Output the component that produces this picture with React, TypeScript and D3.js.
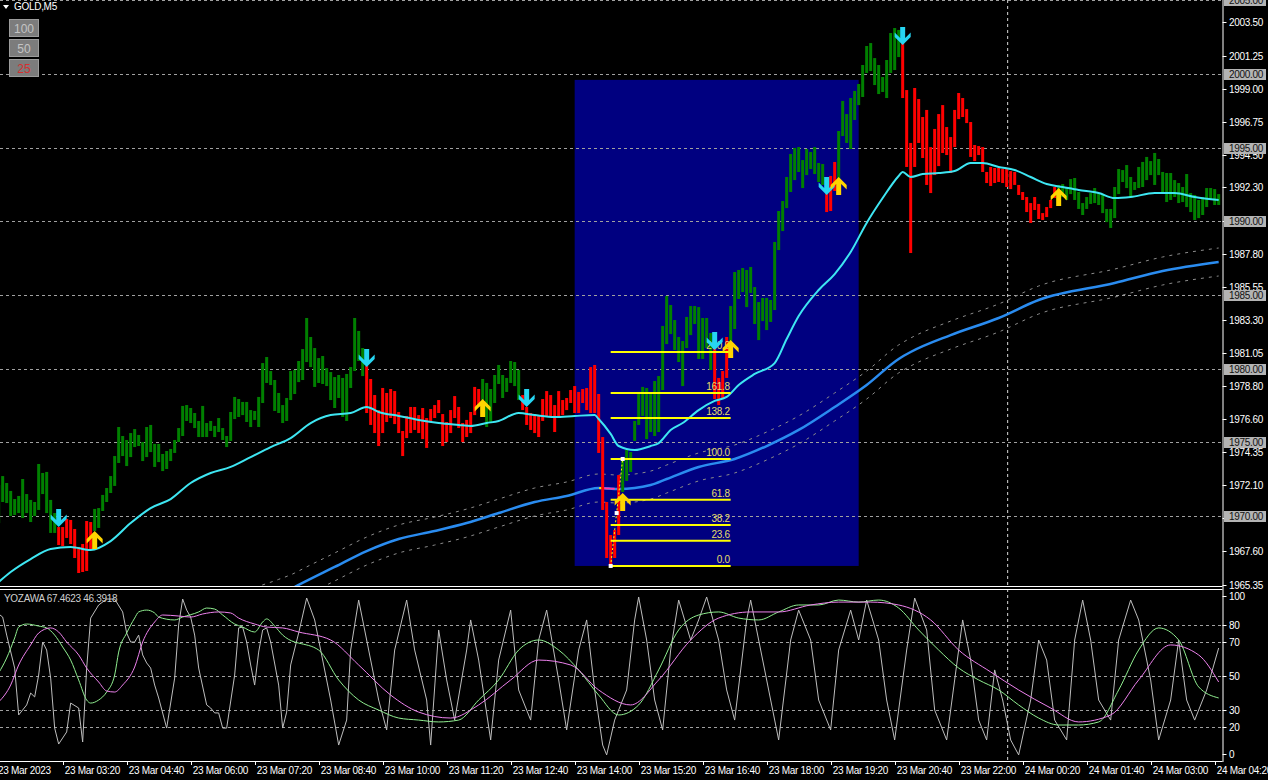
import React from 'react';
import * as d3 from 'd3';

// ---------------- DATA ----------------
// Heiken-Ashi style bodies per M5 bar: [open, close]
const barBodies: [number, number][] = [
[1969.52,1972.10],[1970.95,1972.71],[1970.88,1972.24],[1970.00,1971.70],[1970.07,1971.15],
[1970.20,1971.36],[1969.86,1972.51],[1970.20,1971.49],[1969.59,1971.09],[1970.00,1970.95],
[1970.41,1973.53],[1971.49,1972.92],[1970.20,1972.99],[1968.85,1971.09],[1968.85,1970.20],
[1969.25,1968.03],[1969.25,1967.96],[1969.80,1968.51],[1969.73,1968.10],[1969.12,1967.15],
[1967.90,1966.13],[1968.10,1966.20],[1969.66,1966.27],[1969.59,1967.76],[1968.98,1970.48],
[1969.19,1970.54],[1970.34,1971.43],[1970.95,1971.90],[1971.56,1972.71],[1972.04,1974.07],
[1973.60,1976.04],[1974.07,1975.43],[1973.39,1975.16],[1974.00,1975.63],[1974.68,1975.90],
[1974.75,1975.50],[1973.73,1975.02],[1974.00,1976.04],[1974.34,1976.18],[1973.33,1974.89],
[1973.66,1974.89],[1973.05,1974.21],[1973.19,1974.41],[1973.73,1974.55],[1974.28,1975.16],
[1975.02,1975.97],[1975.43,1977.47],[1976.45,1977.53],[1976.31,1977.33],[1975.97,1976.99],
[1975.36,1976.45],[1975.36,1977.47],[1975.36,1976.31],[1975.77,1976.45],[1975.36,1976.11],
[1975.70,1976.65],[1975.16,1975.97],[1974.68,1975.43],[1975.09,1977.06],[1976.58,1978.08],
[1976.72,1977.94],[1976.85,1977.74],[1976.38,1977.74],[1976.04,1977.19],[1976.52,1977.13],
[1976.04,1978.08],[1977.67,1980.38],[1979.03,1980.79],[1978.89,1979.84],[1977.13,1979.23],
[1976.99,1978.35],[1976.31,1977.53],[1976.45,1978.01],[1977.87,1979.84],[1978.28,1979.91],
[1979.09,1980.52],[1979.23,1981.33],[1980.45,1983.44],
[1980.11,1982.15],[1978.76,1981.40],[1979.03,1980.72],[1978.96,1980.86],[1978.82,1980.04],
[1977.87,1979.77],[1977.33,1979.43],[1978.01,1979.57],[1976.72,1979.37],[1976.45,1979.64],
[1978.69,1980.11],[1979.84,1983.44],[1980.52,1982.56],[1979.50,1981.40],
[1980.18,1976.99],[1979.30,1976.18],[1978.21,1975.63],[1977.19,1974.75],[1978.69,1975.63],
[1978.35,1976.38],[1978.62,1976.65],[1978.48,1976.24],[1977.06,1975.63],[1975.77,1974.07],
[1976.79,1975.29],[1977.40,1975.63],[1977.40,1975.84],[1976.85,1975.63],[1977.33,1975.22],
[1976.65,1974.62],[1977.26,1976.45],[1977.53,1976.65],[1977.87,1976.99],[1976.92,1974.75],
[1976.38,1975.02],[1977.19,1975.63],[1978.14,1976.65],[1977.40,1975.97],[1976.31,1975.02],
[1976.52,1975.36],[1977.06,1975.63],[1978.76,1976.85],[1978.62,1977.40],
[1977.87,1979.30],[1976.04,1979.03],[1976.31,1978.62],[1977.67,1979.57],[1978.96,1980.25],
[1978.01,1979.57],[1978.42,1979.37],[1979.03,1980.52],[1978.82,1980.45],[1977.87,1979.91],
[1978.21,1977.19],[1977.40,1976.18],[1976.99,1975.84],[1976.92,1975.63],[1976.85,1975.36],
[1977.94,1976.45],[1978.48,1976.79],[1978.21,1976.79],[1977.53,1975.70],[1978.48,1976.65],
[1977.87,1976.85],[1978.01,1977.19],[1978.55,1977.67],[1978.82,1976.99],[1978.42,1976.99],
[1978.62,1977.67],[1978.69,1977.19],[1980.11,1976.99],[1980.25,1976.99],[1978.28,1974.28],
[1975.36,1970.41],[1970.95,1967.15],[1968.71,1966.67],[1969.05,1967.15],[1972.78,1968.71],
[1971.63,1973.73],[1972.38,1974.48],[1972.99,1974.34],[1975.09,1976.45],[1976.18,1978.42],
[1976.79,1978.76],[1975.22,1978.69],[1975.70,1978.42],[1975.43,1979.16],[1975.70,1979.50],
[1978.55,1982.90],[1981.67,1984.93],[1982.35,1984.32],[1981.27,1983.30],[1980.45,1982.15],
[1978.82,1981.88],[1981.40,1983.51],[1982.28,1984.25],[1983.03,1984.25],[1980.66,1984.18],
[1980.66,1983.44],[1981.40,1983.44],[1979.91,1982.42],
[1981.47,1977.94],[1979.37,1977.53],[1979.84,1977.94],[1982.15,1979.37],
[1981.88,1984.25],[1982.69,1986.56],[1984.73,1986.70],[1985.20,1986.83],[1984.18,1986.70],
[1985.14,1986.90],[1983.03,1985.54],[1981.94,1984.52],[1983.23,1984.80],[1982.62,1984.80],
[1983.17,1984.66],[1983.98,1988.60],[1988.05,1990.70],[1989.34,1991.38],[1990.90,1993.01],
[1991.99,1994.57],[1992.80,1994.98],[1993.35,1995.04],[1992.26,1994.16],[1993.14,1994.91],
[1993.55,1994.71],[1993.21,1995.04],[1992.67,1993.96],[1992.47,1993.89],
[1992.47,1990.63],[1993.08,1990.70],[1994.03,1992.06],
[1992.80,1996.13],[1995.79,1998.17],[1995.32,1997.28],[1994.91,1998.37],[1996.88,1998.85],
[1997.89,1999.32],[1998.44,2000.61],[2000.07,2001.90],[2000.20,2002.10],[1999.25,2001.08],
[1998.64,2000.61],[1998.78,1999.80],[1998.37,2000.95],[2000.07,2002.78],[2000.27,2003.12],
[2001.15,2002.99],
[2002.31,1998.37],[1998.91,1993.69],[1995.32,1987.85],[1999.05,1993.69],[1998.30,1995.32],
[1997.08,1994.30],[1997.56,1992.47],[1995.04,1991.92],[1996.27,1993.14],[1997.28,1993.75],
[1997.89,1994.64],[1996.40,1994.50],[1995.72,1993.28],[1997.56,1995.04],[1998.71,1996.94],
[1998.37,1997.08],[1997.62,1996.67],[1996.74,1994.37],[1995.18,1994.09],[1995.11,1994.50],
[1995.04,1993.35],[1993.35,1992.60],[1993.69,1992.40],[1993.62,1992.60],[1993.62,1992.67],
[1993.55,1992.60],[1993.55,1992.33],[1993.41,1992.19],[1993.35,1992.47],[1992.47,1991.79],
[1991.99,1991.45],[1991.65,1990.63],[1991.24,1989.89],[1991.65,1990.77],[1991.18,1990.16],
[1990.56,1990.09],[1990.97,1990.29],[1991.45,1990.90],[1992.33,1991.58],
[1991.45,1992.47],[1991.65,1992.53],[1991.45,1992.26],[1991.85,1992.87],[1991.45,1992.94],
[1990.84,1991.99],[1990.43,1991.24],[1990.84,1991.65],[1991.18,1991.92],[1991.24,1992.26],
[1991.11,1991.92],[1990.56,1991.85],[1989.95,1990.84],[1989.55,1990.84],[1990.22,1992.33],
[1991.85,1993.55],[1992.67,1993.48],[1992.26,1993.82],[1991.65,1993.01],[1992.13,1992.67],
[1992.26,1993.69],[1992.33,1994.03],[1992.80,1994.37],[1993.14,1994.09],[1992.47,1994.64],
[1993.14,1994.23],[1991.99,1993.35],[1991.31,1993.28],[1991.45,1993.28],[1991.65,1992.80],
[1991.24,1992.60],[1991.31,1992.33],[1990.97,1993.21],[1990.63,1991.92],[1990.09,1991.79],
[1990.22,1991.45],[1990.43,1991.65],[1990.97,1992.26],[1991.45,1992.26],[1991.11,1992.19],
[1991.11,1991.85],
];

// fast moving average (cyan): [bar, price]
const fastMA: [number, number][] = [
[0,1965.52],[3,1966.20],[8,1967.08],[13,1967.76],[18,1967.90],[23,1967.69],[28,1968.30],
[33,1969.52],[38,1970.54],[43,1971.15],[48,1972.24],[53,1972.92],[58,1973.33],[63,1974.00],
[68,1974.68],[73,1975.29],[78,1976.31],[83,1976.85],[88,1976.99],[92,1977.40],[95,1977.06],
[100,1976.79],[105,1976.52],[110,1976.31],[115,1976.18],[118,1976.11],[122,1976.31],
[125,1976.45],[130,1976.99],[134,1976.85],[139,1976.72],[144,1976.79],[149,1976.85],
[150,1976.58],[153,1975.57],[155,1974.75],[159,1974.48],[163,1974.75],[165,1974.95],
[168,1975.84],[171,1976.31],[175,1977.19],[179,1977.81],[182,1978.08],[185,1978.89],
[189,1979.64],[194,1980.38],[197,1982.01],[200,1983.57],[205,1985.34],[209,1986.42],
[213,1987.92],[217,1989.89],[221,1991.58],[225,1993.08],[226,1993.35],[228,1993.01],
[231,1993.21],[235,1993.28],[239,1993.41],[243,1993.96],[246,1993.96],[250,1993.69],
[254,1993.48],[258,1993.01],[262,1992.53],[266,1992.33],[270,1992.13],[275,1991.92],
[279,1991.58],[283,1991.65],[289,1991.92],[294,1991.92],[299,1991.65],[305,1991.45],
];

// slow moving average (blue): [bar, price]
const slowMA: [number, number][] = [
[64,1964.20],[70,1964.75],[74,1965.18],[75,1965.32],[84,1966.54],[92,1967.62],[100,1968.44],
[109,1968.98],[117,1969.52],[125,1970.20],[134,1970.95],[142,1971.36],[150,1971.90],
[155,1971.83],[163,1972.10],[167,1972.51],[175,1973.33],[184,1973.87],[192,1974.75],
[200,1975.84],[209,1977.40],[217,1978.89],[225,1980.66],[228,1981.13],[238,1982.28],
[250,1983.44],[260,1984.66],[279,1985.81],[291,1986.63],[305,1987.24],
];
const envelopeDeviation = 0.95;

// signal arrows: [bar, tip price]
const downArrows: [number, number][] = [
[15,1969.25],[92,1980.11],[132,1977.40],[179,1981.27],[207,1991.79],[226,2001.97],
];
const upArrows: [number, number][] = [
[24,1968.98],[121,1977.94],[156,1971.56],[183,1981.94],[210,1993.01],[265,1992.26],
];

// Fibonacci retracement
const fibLevels = [0, 23.6, 38.2, 61.8, 100, 138.2, 161.8, 200];
const fibLow = 1966.61;
const fibHigh = 1973.87;
const fibStartBar = 153;
const fibEndBar = 183;
const fibAnchorEndBar = 156;
const fibRect = { startBar: 144, endBar: 215, top: 1999.6, bottom: 1966.61 };

// oscillator (YOZAWA): [bar, value]
const oscFast: [number, number][] = [
[0,86.3],[1,84.5],[2,73.9],[4,54.5],[5,26.9],[7,32.8],[8,39.8],[9,37.5],[10,50.4],[11,69.8],
[12,65.1],[13,48.6],[14,19.2],[15,9.8],[17,16.9],[18,33.9],[20,31.0],[21,11.0],[22,54.5],
[23,83.9],[25,91.6],[27,95.1],[29,95.1],[31,87.5],[32,75.1],[33,69.8],[34,69.8],[35,73.9],
[36,62.2],[37,57.5],[38,54.5],[39,44.5],[40,36.9],[42,19.2],[44,48.6],[45,79.8],[46,95.1],
[47,88.6],[48,84.5],[49,73.9],[50,54.5],[52,32.8],[53,31.0],[54,28.1],[55,28.1],[56,19.2],
[57,19.2],[59,50.4],[60,78.1],[61,78.6],[62,69.8],[63,56.3],[64,44.5],[65,63.9],[66,76.9],
[67,78.1],[68,69.8],[70,44.5],[71,19.2],[72,28.6],[73,56.3],[75,75.1],[77,95.7],[79,82.8],
[83,35.7],[85,9.2],[87,23.9],[88,65.1],[90,94.5],[92,71.0],[95,35.7],[97,18.1],[99,65.1],
[102,94.5],[104,65.1],[107,35.7],[108,9.2],[110,76.9],[112,47.5],[114,23.9],[117,65.1],
[118,82.8],[120,59.2],[123,12.2],[125,59.2],[128,88.6],[130,41.6],[133,23.9],[135,71.0],
[137,88.6],[140,47.5],[142,18.1],[145,65.1],[147,82.8],[149,41.6],[151,9.2],[152,3.4],
[154,23.9],[157,41.6],[159,82.8],[160,96.3],[162,71.0],[164,35.7],[166,18.1],[168,65.1],
[170,94.5],[173,71.0],[175,82.8],[177,96.3],[180,71.0],[182,41.6],[184,23.9],[187,82.8],
[188,94.5],[190,71.0],[193,35.7],[195,12.2],[198,71.0],[200,88.6],[203,71.0],[205,35.7],
[208,18.1],[210,65.1],[213,88.6],[215,71.0],[217,94.5],[220,71.0],[222,35.7],[224,12.2],
[227,65.1],[229,95.7],[232,76.9],[234,29.8],[237,12.2],[239,47.5],[241,82.8],[243,59.2],
[245,23.9],[247,12.2],[249,53.4],[251,35.7],[253,12.2],[255,3.4],[258,35.7],[260,71.0],
[262,59.2],[264,23.9],[267,12.2],[269,71.0],[271,94.5],[273,71.0],[275,35.7],[278,23.9],
[280,71.0],[283,94.5],[285,82.8],[288,47.5],[290,12.2],[293,35.7],[295,71.0],[297,35.7],
[299,23.9],[302,41.6],[305,66.3],
];
const oscSignal: [number, number][] = [
[0,51.6],[2,60.4],[4,72.2],[5,78.6],[7,80.4],[10,79.2],[12,78.1],[14,73.9],[16,66.9],[18,59.2],
[20,47.5],[22,35.7],[23,33.9],[25,35.7],[27,40.4],[29,50.4],[30,63.9],[32,75.1],[34,83.9],
[35,87.5],[37,88.6],[39,86.9],[40,84.5],[44,82.8],[46,84.5],[50,87.5],[52,89.8],[54,89.2],
[56,85.7],[59,80.4],[61,78.6],[64,75.7],[66,81.6],[67,83.4],[69,79.2],[71,73.9],[74,69.8],
[75,69.2],[80,65.1],[85,47.5],[90,35.7],[95,29.8],[100,25.1],[105,23.9],[110,22.8],[115,23.9],
[120,35.7],[125,47.5],[130,65.1],[135,71.0],[140,65.1],[145,53.4],[150,38.6],[155,26.9],
[160,32.8],[165,53.4],[170,76.9],[175,85.7],[180,87.5],[185,83.9],[190,82.8],[195,87.5],
[200,91.6],[205,91.6],[210,94.5],[215,93.3],[220,94.5],[225,89.8],[230,76.9],[235,65.1],
[240,54.5],[245,47.5],[250,41.6],[255,32.8],[260,25.1],[265,21.0],[270,21.0],[275,22.8],
[280,41.6],[285,65.1],[290,78.1],[295,71.0],[300,43.4],[305,36.9],
];
const oscSlow: [number, number][] = [
[0,34.5],[3,44.5],[5,56.3],[8,68.1],[10,75.1],[13,78.1],[15,75.7],[17,69.8],[20,62.2],[22,54.5],
[25,46.3],[27,41.0],[29,40.4],[31,44.5],[34,55.1],[36,69.8],[39,81.6],[41,85.7],[45,85.1],
[48,84.5],[51,86.3],[55,87.5],[58,86.9],[60,83.9],[64,80.4],[67,78.6],[71,78.1],[75,75.7],
[83,71.0],[90,56.3],[98,38.6],[105,28.6],[113,25.1],[120,32.8],[128,47.5],[135,59.2],
[143,56.3],[150,41.6],[158,32.8],[165,47.5],[173,71.0],[180,83.9],[188,87.5],[195,87.5],
[203,91.6],[210,93.3],[218,93.3],[225,91.6],[233,82.8],[240,65.1],[248,52.2],[255,41.6],
[263,31.0],[270,22.8],[278,26.9],[285,47.5],[293,68.1],[300,62.2],[305,46.3],
];
const oscLevels = [80, 70, 50, 30, 20];
const oscAxisLabels = [100, 80, 70, 50, 30, 20, 0];

// axes
const priceTickLabels = ['2003.50','2001.25','1999.00','1996.75','1994.50','1992.30','1990.05','1987.80',
  '1985.55','1983.30','1981.05','1978.80','1976.60','1974.35','1972.10','1969.85','1967.60','1965.35'];
const roundPriceLevels = [2005, 2000, 1995, 1990, 1985, 1980, 1975, 1970];
const timeTickBars = [0,16,32,48,64,80,96,112,128,144,160,176,192,208,224,240,256,272,288,304];
const timeTickLabels = ['23 Mar 2023','23 Mar 03:20','23 Mar 04:40','23 Mar 06:00','23 Mar 07:20',
  '23 Mar 08:40','23 Mar 10:00','23 Mar 11:20','23 Mar 12:40','23 Mar 14:00','23 Mar 15:20',
  '23 Mar 16:40','23 Mar 18:00','23 Mar 19:20','23 Mar 20:40','23 Mar 22:00','24 Mar 00:20',
  '24 Mar 01:40','24 Mar 03:00','24 Mar 04:20'];
const daySeparatorBar = 252.25;
const scaleButtons = ['100', '50', '25'];

// ---------------- CHART ----------------
const W = 1268, H = 780;
const PLOT_R = 1222.5;
const MAIN_B = 586.5;
const OSC_T = 589;
const OSC_B = 761;
const FONT = '"Liberation Sans", Arial, sans-serif';

function arrowPath(cx: number, ty: number, dir: number) {
  const pts = [[0,0],[8,-8],[8,-12.5],[2.5,-7],[2.5,-18],[-2.5,-18],[-2.5,-7],[-8,-12.5],[-8,-8]];
  return 'M' + pts.map(([px, py]) => `${cx + px},${ty + py * dir}`).join('L') + 'Z';
}

export default function App() {
  const x = d3.scaleLinear().domain([0, 305]).range([-1.33, 1218.67]);
  const y = d3.scaleLinear().domain([1970, 2000]).range([516, 74]);
  const oy = d3.scaleLinear().domain([0, 100]).range([760.7, 590.7]);

  const priceLine = d3.line<[number, number]>().x(d => x(d[0])).y(d => y(d[1])).curve(d3.curveMonotoneX);
  const oscLineSmooth = d3.line<[number, number]>().x(d => x(d[0])).y(d => oy(d[1])).curve(d3.curveMonotoneX);
  const oscLineRaw = d3.line<[number, number]>().x(d => x(d[0])).y(d => oy(d[1]));

  const envUp = slowMA.map(([b, p]) => [b, p + envelopeDeviation] as [number, number]);
  const envDn = slowMA.map(([b, p]) => [b, p - envelopeDeviation] as [number, number]);
  const slowAt = d3.scaleLinear().domain(slowMA.map(d => d[0])).range(slowMA.map(d => d[1]));
  const pinkSeg: [number, number][] = [151, 152, 153, 154].map(b => [b, slowAt(b)]);

  const fibPrice = (lvl: number) => fibLow + (fibHigh - fibLow) * lvl / 100;
  const txt = { fontFamily: FONT, fontSize: 10, letterSpacing: '-0.3px' } as React.CSSProperties;

  return (
    <div style={{ position: 'absolute', left: 0, top: 0, width: W, height: H, background: '#000' }}>
      <svg width={W} height={H} style={{ display: 'block' }}>
        <defs>
          <clipPath id="mainClip"><rect x={0} y={0} width={PLOT_R} height={MAIN_B} /></clipPath>
          <clipPath id="oscClip"><rect x={0} y={OSC_T + 1} width={PLOT_R} height={OSC_B - OSC_T - 1} /></clipPath>
        </defs>
        <rect x={0} y={0} width={W} height={H} fill="#000" />

        {/* ---------- main panel ---------- */}
        <g clipPath="url(#mainClip)">
          <rect x={x(fibRect.startBar)} y={y(fibRect.top)} width={x(fibRect.endBar) - x(fibRect.startBar)}
            height={y(fibRect.bottom) - y(fibRect.top)} fill="#000080" />
          {roundPriceLevels.map(p => (
            <line key={p} x1={0} x2={PLOT_R} y1={Math.round(y(p)) + 0.5} y2={Math.round(y(p)) + 0.5}
              stroke="#a0a0a0" strokeDasharray="3,3" />
          ))}
          <line x1={x(daySeparatorBar)} x2={x(daySeparatorBar)} y1={0} y2={MAIN_B} stroke="#d8d8d8" strokeDasharray="3,3" />
          <path d={priceLine(envUp)!} fill="none" stroke="#8c8c8c" strokeDasharray="3,5" />
          <path d={priceLine(envDn)!} fill="none" stroke="#8c8c8c" strokeDasharray="3,5" />
          <path d={priceLine(slowMA)!} fill="none" stroke="#2a8cf0" strokeWidth={2.5} />
          <path d={priceLine(pinkSeg)!} fill="none" stroke="#ff3aa8" strokeWidth={2} />
          <rect x={x(150.5) - 1.5} y={y(slowAt(150.5)) - 1} width={3} height={2} fill="#ffee00" />
          {barBodies.map(([o, c], i) => {
            const top = y(Math.max(o, c));
            const bot = y(Math.min(o, c));
            return (
              <rect key={i} x={x(i) - 1.5} y={top} width={3} height={Math.max(1, bot - top)}
                fill={c >= o ? '#008000' : '#ff0000'} />
            );
          })}
          <path d={priceLine(fastMA)!} fill="none" stroke="#3ee6f2" strokeWidth={2} />
          {fibLevels.map(l => (
            <g key={l}>
              <line x1={x(fibStartBar)} x2={x(fibEndBar)} y1={y(fibPrice(l))} y2={y(fibPrice(l))} stroke="#ffff00" strokeWidth={2} />
              <text x={x(fibEndBar) - 1} y={y(fibPrice(l)) - 3} textAnchor="end" fill="#e6de6a" style={txt}>
                {l.toFixed(1)}
              </text>
            </g>
          ))}
          <line x1={x(fibStartBar)} y1={y(fibLow)} x2={x(fibAnchorEndBar)} y2={y(fibHigh)} stroke="#ffff00" strokeDasharray="2,2" />
          <rect x={x(fibStartBar) - 2} y={y(fibLow) - 2} width={4} height={4} fill="#fff" />
          <rect x={x(fibAnchorEndBar) - 2} y={y(fibHigh) - 2} width={4} height={4} fill="#fff" />
          <rect x={x(154.5) - 2} y={y(1970.2) - 2} width={4} height={4} fill="#fff" />
          {downArrows.map(([b, p], i) => (
            <path key={'d' + i} d={arrowPath(x(b), y(p), 1)} fill="#26d6f2" />
          ))}
          {upArrows.map(([b, p], i) => (
            <path key={'u' + i} d={arrowPath(x(b), y(p), -1)} fill="#ffd500" />
          ))}
        </g>

        {/* title & scale buttons */}
        <path d="M3,5 L9,5 L6,9 Z" fill="#fff" />
        <text x={14} y={10} fill="#fff" style={txt}>GOLD,M5</text>
        {scaleButtons.map((s, i) => (
          <g key={s}>
            <rect x={9.5} y={19.5 + i * 20} width={29} height={17} fill="#7c7c7c" stroke="#9c9c9c" />
            <text x={24} y={32.5 + i * 20} textAnchor="middle" fill={s === '25' ? '#d43030' : '#c4c4c4'}
              style={{ fontFamily: FONT, fontSize: 12 }}>{s}</text>
          </g>
        ))}

        {/* ---------- oscillator panel ---------- */}
        <g clipPath="url(#oscClip)">
          {oscLevels.map(l => (
            <line key={l} x1={0} x2={PLOT_R} y1={Math.round(oy(l)) + 0.5} y2={Math.round(oy(l)) + 0.5}
              stroke="#a0a0a0" strokeDasharray="3,3" />
          ))}
          <line x1={x(daySeparatorBar)} x2={x(daySeparatorBar)} y1={OSC_T} y2={OSC_B} stroke="#d8d8d8" strokeDasharray="3,3" />
          <path d={oscLineRaw(oscFast)!} fill="none" stroke="#bdbdbd" strokeWidth={1} />
          <path d={oscLineSmooth(oscSignal)!} fill="none" stroke="#90ee90" strokeWidth={1} />
          <path d={oscLineSmooth(oscSlow)!} fill="none" stroke="#ee82ee" strokeWidth={1} />
        </g>
        <text x={4} y={602} fill="#d0d0d0" style={txt}>YOZAWA 67.4623 46.3918</text>

        {/* panel borders */}
        <line x1={0} x2={PLOT_R} y1={MAIN_B} y2={MAIN_B} stroke="#fff" />
        <line x1={0} x2={PLOT_R} y1={OSC_T + 0.5} y2={OSC_T + 0.5} stroke="#fff" />
        <line x1={0} x2={PLOT_R} y1={OSC_B + 0.5} y2={OSC_B + 0.5} stroke="#fff" />
        <line x1={PLOT_R + 0.5} x2={PLOT_R + 0.5} y1={0} y2={OSC_B + 1} stroke="#fff" />

        {/* price axis */}
        {priceTickLabels.map(s => {
          const py = Math.round(y(+s));
          return (
            <g key={s}>
              <line x1={PLOT_R} x2={PLOT_R + 4} y1={py + 0.5} y2={py + 0.5} stroke="#fff" />
              <text x={1229} y={py + 4} fill="#fff" style={txt}>{s}</text>
            </g>
          );
        })}
        {roundPriceLevels.map(p => {
          const py = Math.round(y(p));
          return (
            <g key={p}>
              <rect x={1224} y={py - 5} width={42} height={11} fill="#b4b4b4" />
              <text x={1229} y={py + 4} fill="#111" style={txt}>{p.toFixed(2)}</text>
            </g>
          );
        })}

        {/* oscillator axis */}
        {oscAxisLabels.map(v => {
          const py = Math.max(596, Math.min(754, oy(v)));
          return (
            <g key={v}>
              <line x1={PLOT_R} x2={PLOT_R + 4} y1={Math.round(py) + 0.5} y2={Math.round(py) + 0.5} stroke="#fff" />
              <text x={1229} y={py + 4} fill="#fff" style={txt}>{v}</text>
            </g>
          );
        })}

        {/* time axis */}
        {timeTickBars.map((b, i) => (
          <g key={b}>
            {i > 0 && <line x1={Math.round(x(b)) + 0.5} x2={Math.round(x(b)) + 0.5} y1={OSC_B} y2={OSC_B + 4} stroke="#fff" />}
            <text x={i === 0 ? -2 : x(b) + 2} y={774} fill="#fff" style={txt}>{timeTickLabels[i]}</text>
          </g>
        ))}
      </svg>
    </div>
  );
}
